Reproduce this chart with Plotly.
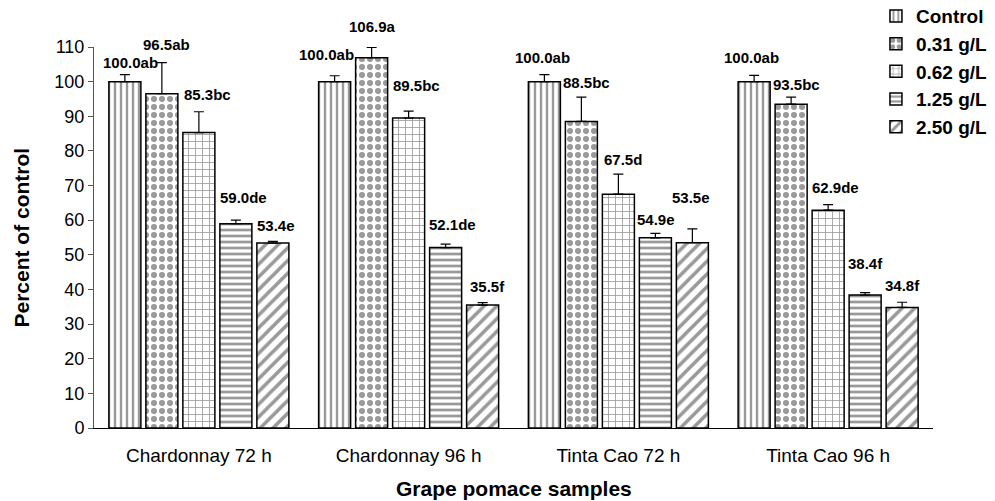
import plotly.graph_objects as go

categories = ["Chardonnay 72 h", "Chardonnay 96 h", "Tinta Cao 72 h", "Tinta Cao 96 h"]
series_names = ["Control", "0.31 g/L", "0.62 g/L", "1.25 g/L", "2.50 g/L"]

control = [100.0, 100.0, 100.0, 100.0]
dose_031 = [96.5, 106.9, 88.5, 93.5]
dose_062 = [85.3, 89.5, 67.5, 62.9]
dose_125 = [59.0, 52.1, 54.9, 38.4]
dose_250 = [53.4, 35.5, 53.5, 34.8]

err_control = [2.0, 1.7, 2.0, 1.8]
err_031 = [9.0, 3.0, 7.0, 2.0]
err_062 = [6.0, 2.0, 5.8, 1.6]
err_125 = [1.0, 1.0, 1.3, 0.7]
err_250 = [0.5, 0.7, 4.0, 1.5]

letters_control = ["ab", "ab", "ab", "ab"]
letters_031 = ["ab", "a", "bc", "bc"]
letters_062 = ["bc", "bc", "d", "de"]
letters_125 = ["de", "de", "e", "f"]
letters_250 = ["e", "f", "e", "f"]

y_ticks = [0, 10, 20, 30, 40, 50, 60, 70, 80, 90, 100, 110]

x_title = "Grape pomace samples"
y_title = "Percent of control"

values = [control, dose_031, dose_062, dose_125, dose_250]
errors = [err_control, err_031, err_062, err_125, err_250]
letters = [letters_control, letters_031, letters_062, letters_125, letters_250]

# label placement offsets in px (dx, dy above bar top) -- styling only
label_offsets = [
    [(6, 19), (-8, 27), (-2, 24), (-3, 24)],
    [(5, 49), (1, 31), (5.5, 39), (5, 20)],
    [(8.5, 38), (8, 33), (4.5, 35), (7, 23)],
    [(8, 26), (7, 23), (1, 18), (0, 32)],
    [(3, 18), (5, 19), (-1, 45), (0, 22)],
]

GRAY = "#999999"
patterns = [
    dict(shape="|", size=6, solidity=0.4),
    dict(shape=".", size=8, solidity=0.45),
    dict(shape="+", size=7, solidity=0.22),
    dict(shape="-", size=6, solidity=0.45),
    dict(shape="/", size=9, solidity=0.4),
]

FONT = "Liberation Sans, Arial, sans-serif"
bargap = 0.118
bargroupgap = 0.135

fig = go.Figure()
for k, name in enumerate(series_names):
    p = patterns[k]
    fig.add_trace(go.Bar(
        name=name,
        x=categories,
        y=values[k],
        legendgroup=name,
        marker=dict(
            color="white",
            line=dict(color="black", width=1.5),
            pattern=dict(shape=p["shape"], size=p["size"], solidity=p["solidity"],
                         fgcolor=GRAY, bgcolor="white", fillmode="replace"),
        ),
        error_y=dict(type="data", array=errors[k], arrayminus=[0] * len(categories),
                     symmetric=False, color="black", thickness=1.2, width=5),
    ))

n = len(series_names)
slot = (1 - bargap) / n
annotations = []
for k in range(n):
    for g in range(len(categories)):
        dx, dy = label_offsets[k][g]
        annotations.append(dict(
            x=g + (k - (n - 1) / 2) * slot, y=values[k][g],
            xref="x", yref="y",
            text=f"<b>{values[k][g]:.1f}{letters[k][g]}</b>",
            showarrow=False, xshift=dx, yshift=dy,
            xanchor="center", yanchor="middle",
            font=dict(family=FONT, size=15, color="black"),
        ))

annotations.append(dict(
    x=0.5, y=-0.160, xref="paper", yref="paper", showarrow=False,
    text=f"<b>{x_title}</b>", xanchor="center", yanchor="middle",
    font=dict(family=FONT, size=21, color="black"),
))
annotations.append(dict(
    x=-0.087, y=0.5, xref="paper", yref="paper", showarrow=False,
    text=f"<b>{y_title}</b>", textangle=-90, xanchor="center", yanchor="middle",
    font=dict(family=FONT, size=21, color="black"),
))

fig.update_layout(
    width=995, height=501,
    margin=dict(l=94, r=62, t=47, b=73, autoexpand=False),
    paper_bgcolor="white", plot_bgcolor="white",
    barmode="group", bargap=bargap, bargroupgap=bargroupgap,
    font=dict(family=FONT, color="black"),
    annotations=annotations,
    legend=dict(
        x=0.932, y=1.131, xanchor="left", yanchor="top",
        font=dict(family=FONT, size=19, color="black", weight="bold"),
        traceorder="grouped", tracegroupgap=0,
        bgcolor="rgba(0,0,0,0)",
    ),
    xaxis=dict(
        showline=True, linecolor="black", linewidth=1,
        ticks="", showgrid=False, ticklabelstandoff=10,
        tickfont=dict(family=FONT, size=19, color="black"),
    ),
    yaxis=dict(
        range=[0, 110], tickvals=y_ticks,
        showline=True, linecolor="#555555", linewidth=1,
        ticks="outside", ticklen=5, tickcolor="#555555",
        showgrid=False, zeroline=False,
        tickfont=dict(family=FONT, size=18, color="black"),
    ),
)

fig.write_html(
    "out.html",
    config={"displayModeBar": False},
    post_script="document.body.style.margin='0';document.body.style.overflow='hidden';",
)
